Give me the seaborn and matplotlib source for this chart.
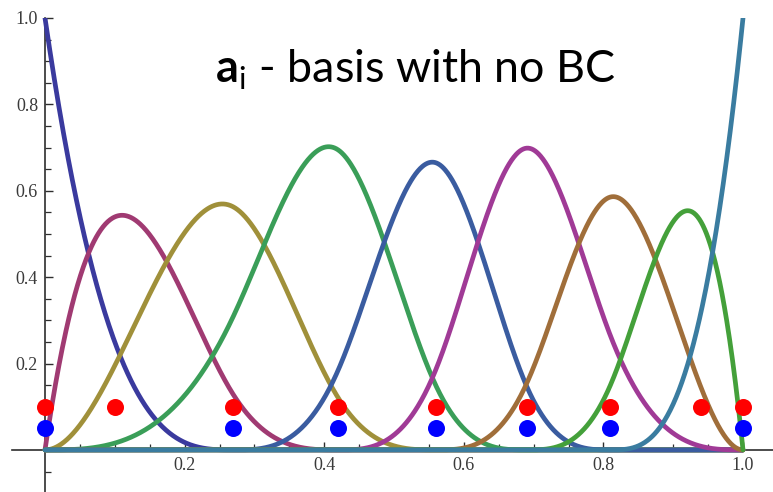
import numpy as np
import pandas as pd
import matplotlib
matplotlib.use("Agg")
import matplotlib.pyplot as plt
from matplotlib.ticker import MultipleLocator, FixedLocator
import seaborn as sns

# ---- data ----
# cubic B-spline basis; knots = positions of the blue dots (clamped ends)
degree = 3
interior_knots = [0.27, 0.42, 0.56, 0.69, 0.81]
red_x = [0.0, 0.10, 0.27, 0.42, 0.56, 0.69, 0.81, 0.94, 1.0]
red_y = [0.1] * len(red_x)
blue_x = [0.0, 0.27, 0.42, 0.56, 0.69, 0.81, 1.0]
blue_y = [0.05] * len(blue_x)
x_ticks = [0.2, 0.4, 0.6, 0.8, 1.0]
x_tick_labels = ["0.2", "0.4", "0.6", "0.8", "1.0"]
y_ticks = [0.2, 0.4, 0.6, 0.8, 1.0]
y_tick_labels = ["0.2", "0.4", "0.6", "0.8", "1.0"]
curve_colors = ["#3a3a9e", "#a03a72", "#a0903a", "#3a9e58", "#3a5ca0",
                "#a03a96", "#a06e3a", "#44a03a", "#3a7ca0"]
title_text = r"$\mathbf{a}_{\mathrm{i}}$ - basis with no BC"


def bspline_basis(knots, p, x):
    t = np.asarray(knots, dtype=float)
    m = len(t) - 1
    B = np.zeros((m, len(x)))
    for i in range(m):
        if t[i] < t[i + 1]:
            B[i] = ((x >= t[i]) & (x < t[i + 1])).astype(float)
    last = max(i for i in range(m) if t[i] < t[i + 1])
    B[last, x >= t[-1]] = 1.0
    for k in range(1, p + 1):
        Bn = np.zeros((m - k, len(x)))
        for i in range(m - k):
            d1 = t[i + k] - t[i]
            d2 = t[i + k + 1] - t[i + 1]
            val = np.zeros(len(x))
            if d1 > 0:
                val += (x - t[i]) / d1 * B[i]
            if d2 > 0:
                val += (t[i + k + 1] - x) / d2 * B[i + 1]
            Bn[i] = val
        B = Bn
    return B


knots = [0.0] * (degree + 1) + interior_knots + [1.0] * (degree + 1)
xs = np.linspace(0, 1, 1201)
basis = bspline_basis(knots, degree, xs)
frames = []
for i, row in enumerate(basis):
    frames.append(pd.DataFrame({"x": xs, "y": row, "f": f"a{i}"}))
df = pd.concat(frames, ignore_index=True)

sns.set_theme(style="white")
plt.rcParams["font.family"] = ["Liberation Serif", "DejaVu Serif"]
plt.rcParams["mathtext.fontset"] = "custom"
plt.rcParams["mathtext.rm"] = "Lato"
plt.rcParams["mathtext.bf"] = "Lato:bold"

W, H = 773, 492
fig = plt.figure(figsize=(W / 100, H / 100), dpi=100)
ax = fig.add_axes([12 / W, 0, (W - 12) / W, (H - 18) / H])

sns.lineplot(data=df, x="x", y="y", hue="f", palette=curve_colors,
             estimator=None, sort=False, linewidth=3.4, legend=False, ax=ax)
sns.scatterplot(x=red_x, y=red_y, color="#ff0000", s=150, linewidth=0,
                zorder=5, ax=ax, clip_on=False)
sns.scatterplot(x=blue_x, y=blue_y, color="#0000ff", s=150, linewidth=0,
                zorder=5, ax=ax, clip_on=False)

ax.set_xlim(-33 / 698, (W - 45) / 698)
ax.set_ylim(-42 / 431, 1.0)
ax.set_xlabel("")
ax.set_ylabel("")

for s in ["top", "right"]:
    ax.spines[s].set_visible(False)
for s in ["left", "bottom"]:
    ax.spines[s].set_position(("data", 0))
    ax.spines[s].set_color("#2e2e2e")
    ax.spines[s].set_linewidth(1.2)
    ax.spines[s].set_zorder(0.5)

ax.xaxis.set_major_locator(FixedLocator(x_ticks))
ax.set_xticklabels(x_tick_labels)
ax.yaxis.set_major_locator(FixedLocator(y_ticks))
ax.set_yticklabels(y_tick_labels)
ax.xaxis.set_minor_locator(MultipleLocator(0.05))
ax.yaxis.set_minor_locator(MultipleLocator(0.05))
ax.tick_params(axis="both", which="major", direction="in", length=6,
               width=1.0, color="#2e2e2e", labelsize=13, labelcolor="#3a3a3a")
ax.tick_params(axis="both", which="minor", direction="in", length=4,
               width=0.9, color="#2e2e2e")
ax.tick_params(axis="x", which="both", bottom=True, pad=5)
ax.tick_params(axis="y", which="both", left=True, pad=5)
ax.grid(False)
ax.set_facecolor("white")
fig.patch.set_facecolor("white")

fig.text(215 / W, 1 - 83 / H, title_text, fontsize=32.3, family="Lato",
         ha="left", va="baseline", color="black")

fig.savefig("out.png", dpi=100, facecolor="white")
